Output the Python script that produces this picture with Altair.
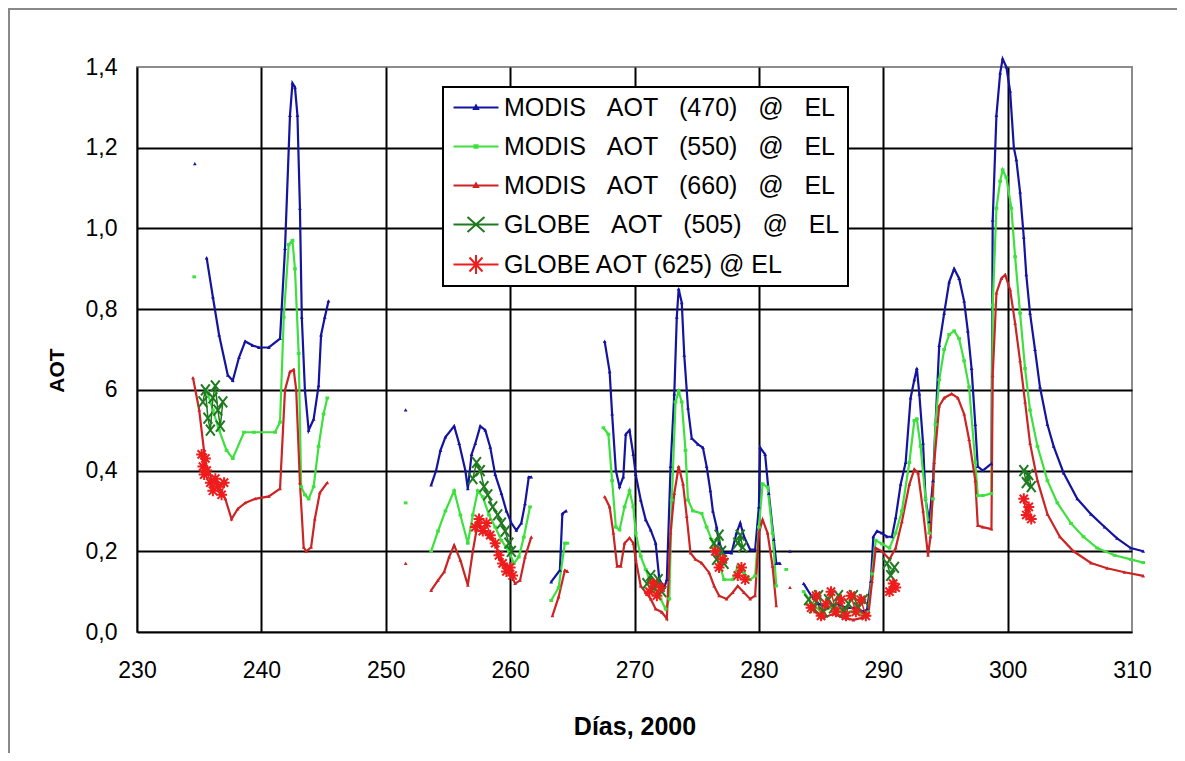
import altair as alt
import pandas as pd

N = None
NAMES = [
    "MODIS\u00a0\u00a0\u00a0AOT\u00a0\u00a0\u00a0(470)\u00a0\u00a0\u00a0@\u00a0\u00a0\u00a0EL",
    "MODIS\u00a0\u00a0\u00a0AOT\u00a0\u00a0\u00a0(550)\u00a0\u00a0\u00a0@\u00a0\u00a0\u00a0EL",
    "MODIS\u00a0\u00a0\u00a0AOT\u00a0\u00a0\u00a0(660)\u00a0\u00a0\u00a0@\u00a0\u00a0\u00a0EL",
    "GLOBE\u00a0\u00a0\u00a0AOT\u00a0\u00a0\u00a0(505)\u00a0\u00a0\u00a0@\u00a0\u00a0\u00a0EL",
    "GLOBE AOT (625) @ EL",
]
COLORS = ["#1414a0", "#3ee03e", "#cc2424", "#1e7a1e", "#ee1c1c"]

# None separates disconnected segments
DAYS_470 = [234.65, N,
            235.6, 236.1, 236.6, 237.3, 237.7, 238.2, 238.7, 239.3, 239.8, 240.6, 241.5, 241.9, 242.3, 242.5,
            242.7, 242.9, 243.1, 243.25, 243.5, 243.8, 244.2, 244.6, 244.8, 245.1, 245.4, N,
            251.6, N,
            253.65, 254.05, 254.4, 254.8, 255.5, 255.9, 256.4, 256.6, 256.9, 257.2, 257.6, 258.0, 258.4, 258.8,
            259.3, 259.7, 260.1, 260.5, 260.9, 261.2, 261.5, 261.7, N,
            263.3, 264.0, 264.2, 264.5, N,
            267.6, 268.0, 268.2, 268.5, 268.8, 269.1, 269.3, 269.6, 269.9, 270.1, 270.5, 270.9, 271.3, 271.7,
            272.0, 272.4, 272.6, 272.9, 273.2, 273.4, 273.55, 273.8, 274.0, 274.3, 274.6, 275.1, 275.5, 275.8,
            276.1, 276.3, 276.6, 276.8, 277.2, 277.8, 278.2, 278.5, 278.8, 279.3, 279.7, 280.0, 280.1, 280.5,
            280.8, 281.2, 281.4, 281.7, N,
            282.5, N,
            283.6, 284.2, 284.8, 285.5, 286.3, 287.0, 287.8, 288.4, 288.7, 289.0, 289.2, 289.5, 289.9, 290.3,
            290.7, 291.0, 291.4, 291.8, 292.2, 292.5, 292.7, 292.9, 293.2, 293.4, 293.7, 294.0, 294.2, 294.5,
            294.9, 295.3, 295.7, 296.1, 296.5, 296.8, 297.1, 297.4, 297.6, 298.0, 298.7, 298.8, 299.1, 299.4,
            299.6, 299.9, 300.2, 300.5, 300.7, 301.0, 301.3, 301.5, 301.8, 302.2, 302.6, 303.2, 303.7, 304.5,
            305.6, 306.7, 307.8, 308.8, 309.9, 310.9]
AOT_470 = [1.16, N,
           0.927, 0.83, 0.736, 0.636, 0.623, 0.68, 0.72, 0.71, 0.705, 0.705, 0.727, 0.95, 1.28, 1.36,
           1.35, 1.28, 1.05, 0.78, 0.60, 0.50, 0.527, 0.61, 0.736, 0.78, 0.82, N,
           0.55, N,
           0.364, 0.40, 0.45, 0.483, 0.51, 0.467, 0.40, 0.355, 0.44, 0.467, 0.51, 0.50, 0.458, 0.39,
           0.343, 0.30, 0.27, 0.252, 0.27, 0.318, 0.384, 0.384, N,
           0.124, 0.153, 0.293, 0.30, N,
           0.72, 0.645, 0.54, 0.40, 0.36, 0.384, 0.49, 0.50, 0.44, 0.39, 0.327, 0.278, 0.253, 0.22,
           0.13, 0.11, 0.13, 0.41, 0.59, 0.78, 0.85, 0.816, 0.686, 0.555, 0.48, 0.465, 0.457, 0.41,
           0.35, 0.30, 0.26, 0.22, 0.196, 0.196, 0.245, 0.27, 0.237, 0.204, 0.204, 0.31, 0.457, 0.44,
           0.343, 0.229, 0.17, 0.17, N,
           0.20, N,
           0.12, 0.09, 0.07, 0.06, 0.07, 0.06, 0.06, 0.05, 0.056, 0.125, 0.236, 0.25, 0.245, 0.236,
           0.236, 0.283, 0.366, 0.42, 0.58, 0.625, 0.653, 0.59, 0.468, 0.33, 0.273, 0.375, 0.514, 0.71,
           0.79, 0.867, 0.90, 0.876, 0.82, 0.746, 0.653, 0.514, 0.41, 0.40, 0.417, 1.02, 1.28, 1.385,
           1.42, 1.40, 1.34, 1.20, 1.17, 1.09, 0.978, 0.885, 0.79, 0.70, 0.607, 0.514, 0.46, 0.394,
           0.33, 0.292, 0.26, 0.232, 0.208, 0.20]

DAYS_550 = [234.6, N,
            235.6, 236.1, 236.6, 237.2, 237.7, 238.6, 239.4, 241.1, 241.5, 241.8, 242.2, 242.5, 242.7, 243.0,
            243.2, 243.5, 243.8, 244.2, 244.6, 245.0, 245.3, N,
            251.6, N,
            253.65, 254.2, 254.8, 255.5, 256.0, 256.6, 257.0, 257.4, 257.8, 258.3, 258.8, 259.3, 259.9, 260.3,
            260.7, 261.1, 261.6, N,
            263.3, 263.9, 264.4, 264.6, N,
            267.5, 267.9, 268.2, 268.5, 268.8, 269.2, 269.6, 269.9, 270.1, 270.5, 270.9, 271.3, 271.7, 272.1,
            272.5, 272.8, 273.0, 273.3, 273.55, 273.8, 274.1, 274.3, 274.7, 275.4, 275.8, 276.2, 276.7, 277.2,
            277.9, 278.3, 278.8, 279.3, 279.7, 280.0, 280.3, 280.7, 281.1, 281.4, N,
            282.2, N,
            283.6, 284.3, 285.0, 285.8, 286.6, 287.4, 288.2, 288.8, 289.1, 289.4, 289.9, 290.5, 291.0, 291.5,
            292.1, 292.5, 292.7, 293.0, 293.4, 293.7, 294.0, 294.2, 294.5, 294.9, 295.3, 295.7, 296.1, 296.5,
            296.9, 297.4, 297.6, 298.0, 298.7, 298.8, 299.1, 299.4, 299.6, 299.9, 300.3, 300.6, 301.0, 301.4,
            301.8, 302.4, 303.2, 304.0, 305.1, 306.1, 307.2, 308.6, 309.9, 310.9]
AOT_550 = [0.88, N,
           0.60, 0.55, 0.50, 0.45, 0.43, 0.495, 0.495, 0.495, 0.52, 0.78, 0.96, 0.97, 0.90, 0.69,
           0.36, 0.34, 0.33, 0.36, 0.46, 0.54, 0.58, N,
           0.32, N,
           0.20, 0.25, 0.30, 0.35, 0.29, 0.22, 0.29, 0.35, 0.335, 0.29, 0.26, 0.227, 0.20, 0.17,
           0.186, 0.235, 0.31, N,
           0.078, 0.11, 0.22, 0.22, N,
           0.506, 0.49, 0.375, 0.26, 0.253, 0.31, 0.35, 0.31, 0.245, 0.188, 0.155, 0.122, 0.098, 0.082,
           0.057, 0.082, 0.327, 0.57, 0.596, 0.57, 0.45, 0.327, 0.30, 0.294, 0.26, 0.229, 0.18, 0.13,
           0.13, 0.163, 0.147, 0.13, 0.139, 0.26, 0.367, 0.359, 0.245, 0.114, N,
           0.155, N,
           0.10, 0.07, 0.05, 0.06, 0.05, 0.05, 0.045, 0.05, 0.144, 0.227, 0.218, 0.208, 0.245, 0.30,
           0.42, 0.524, 0.528, 0.46, 0.33, 0.245, 0.33, 0.514, 0.625, 0.70, 0.737, 0.746, 0.727, 0.672,
           0.607, 0.42, 0.338, 0.338, 0.343, 0.81, 1.05, 1.117, 1.145, 1.126, 1.05, 0.93, 0.79, 0.653,
           0.55, 0.46, 0.375, 0.32, 0.269, 0.236, 0.208, 0.19, 0.18, 0.172]

DAYS_660 = [234.5, 235.0, 235.5, 236.0, 236.6, 237.1, 237.6, 238.1, 238.7, 239.5, 240.6, 241.5, 241.9, 242.3,
            242.6, 242.8, 243.1, 243.4, 243.6, 244.0, 244.3, 244.7, 245.3, N,
            251.6, N,
            253.65, 254.2, 254.7, 255.1, 255.5, 256.0, 256.6, 257.0, 257.4, 257.8, 258.3, 258.8, 259.3, 259.9,
            260.4, 260.8, 261.2, 261.7, N,
            263.4, 263.9, 264.4, 264.6, N,
            267.6, 268.0, 268.3, 268.6, 268.9, 269.2, 269.6, 269.9, 270.1, 270.5, 270.9, 271.3, 271.7, 272.2,
            272.6, 272.9, 273.2, 273.55, 273.9, 274.2, 274.5, 274.9, 275.4, 276.0, 276.4, 276.8, 277.4, 277.9,
            278.3, 278.8, 279.3, 279.7, 280.0, 280.3, 280.7, 281.1, 281.4, N,
            282.5, N,
            283.8, 284.5, 285.2, 286.0, 286.8, 287.6, 288.3, 288.8, 289.1, 289.4, 289.9, 290.5, 291.0, 291.5,
            292.1, 292.5, 292.8, 293.2, 293.6, 293.8, 294.1, 294.5, 294.9, 295.5, 296.0, 296.5, 296.9, 297.4,
            297.6, 298.0, 298.7, 298.8, 299.1, 299.5, 299.8, 300.2, 300.6, 301.0, 301.4, 301.8, 302.4, 303.2,
            304.2, 305.3, 306.7, 308.0, 309.4, 310.9]
AOT_660 = [0.63, 0.55, 0.42, 0.38, 0.36, 0.33, 0.28, 0.305, 0.32, 0.33, 0.336, 0.355, 0.60, 0.645,
           0.65, 0.60, 0.37, 0.21, 0.20, 0.21, 0.28, 0.345, 0.37, N,
           0.17, N,
           0.103, 0.128, 0.149, 0.186, 0.215, 0.178, 0.116, 0.20, 0.27, 0.255, 0.235, 0.22, 0.178, 0.157,
           0.12, 0.128, 0.186, 0.235, N,
           0.04, 0.087, 0.153, 0.15, N,
           0.335, 0.31, 0.245, 0.163, 0.163, 0.22, 0.233, 0.22, 0.18, 0.114, 0.098, 0.082, 0.057, 0.049,
           0.033, 0.245, 0.343, 0.41, 0.367, 0.286, 0.196, 0.18, 0.171, 0.147, 0.114, 0.09, 0.082, 0.098,
           0.114, 0.098, 0.082, 0.09, 0.245, 0.278, 0.245, 0.163, 0.065, N,
           0.11, N,
           0.07, 0.05, 0.035, 0.045, 0.035, 0.03, 0.035, 0.042, 0.125, 0.208, 0.20, 0.18, 0.208, 0.273,
           0.366, 0.403, 0.394, 0.30, 0.19, 0.236, 0.42, 0.56, 0.58, 0.59, 0.58, 0.54, 0.477, 0.375,
           0.264, 0.26, 0.255, 0.635, 0.84, 0.876, 0.885, 0.848, 0.765, 0.672, 0.57, 0.468, 0.375, 0.292,
           0.236, 0.20, 0.171, 0.158, 0.148, 0.139]

DAYS_505 = [235.3, 235.5, 235.7, 235.9, 236.1, 236.3, 236.5, 236.7, 236.9, N,
            257.0, 257.3, 257.6, 257.9, 258.2, 258.6, 259.0, 259.3, 259.6, 259.9, 260.1, N,
            271.0, 271.3, 271.6, 271.9, 272.2, N,
            276.4, 276.6, 276.8, 277.0, 277.2, N,
            278.3, 278.5, 278.7, N,
            284.0, 284.4, 284.8, 285.2, 285.6, 286.0, 286.4, 286.8, 287.2, 287.6, 288.0, 288.4, N,
            290.3, 290.6, 290.9, N,
            301.3, 301.5, 301.7, 301.9]
AOT_505 = [0.57, 0.60, 0.53, 0.50, 0.58, 0.61, 0.55, 0.51, 0.57, N,
           0.38, 0.42, 0.40, 0.36, 0.34, 0.31, 0.29, 0.27, 0.25, 0.22, 0.20, N,
           0.12, 0.14, 0.11, 0.13, 0.10, N,
           0.22, 0.18, 0.24, 0.20, 0.17, N,
           0.22, 0.24, 0.21, N,
           0.08, 0.06, 0.09, 0.05, 0.08, 0.06, 0.09, 0.05, 0.07, 0.09, 0.06, 0.08, N,
           0.17, 0.14, 0.16, N,
           0.40, 0.37, 0.39, 0.36]

DAYS_625 = [235.2, 235.3, 235.4, 235.5, 235.6, 235.9, 236.1, 236.3, 236.5, 236.8, 237.0, N,
            257.2, 257.5, 257.8, 258.1, 258.4, 258.8, 259.1, 259.4, 259.7, 260.0, 260.2, N,
            271.2, 271.5, 271.8, 272.1, N,
            276.5, 276.8, 277.1, N,
            278.3, 278.6, 278.9, N,
            284.2, 284.6, 285.0, 285.4, 285.8, 286.2, 286.6, 287.0, 287.4, 287.8, 288.2, 288.6, N,
            290.5, 290.8, 291.0, N,
            301.3, 301.5, 301.7, 301.9]
AOT_625 = [0.44, 0.41, 0.39, 0.43, 0.40, 0.37, 0.35, 0.38, 0.36, 0.34, 0.37, N,
           0.26, 0.28, 0.25, 0.27, 0.24, 0.22, 0.19, 0.17, 0.15, 0.16, 0.14, N,
           0.10, 0.12, 0.09, 0.11, N,
           0.20, 0.16, 0.18, N,
           0.14, 0.16, 0.13, N,
           0.06, 0.09, 0.04, 0.07, 0.10, 0.05, 0.08, 0.04, 0.09, 0.05, 0.08, 0.04, N,
           0.10, 0.12, 0.11, N,
           0.33, 0.29, 0.31, 0.28]

X_TICKS = [230, 240, 250, 260, 270, 280, 290, 300, 310]
Y_TICKS = [0.0, 0.2, 0.4, 0.6, 0.8, 1.0, 1.2, 1.4]

SERIES = [(DAYS_470, AOT_470), (DAYS_550, AOT_550), (DAYS_660, AOT_660),
          (DAYS_505, AOT_505), (DAYS_625, AOT_625)]

# marker paths on the plot (unit size) and legend symbols (line + marker)
MARK_PATHS = [
    "M-1,0.8L0,-1L1,0.8Z",
    "M-1,-0.8L1,-0.8L1,0.8L-1,0.8Z",
    "M-1,0.8L0,-1L1,0.8Z",
    "M-0.8,-1L0.8,1M-0.8,1L0.8,-1",
    "M-1,0L1,0M0,-1L0,1M-0.75,-0.75L0.75,0.75M-0.75,0.75L0.75,-0.75",
]
MARK_SIZES = [14, 14, 14, 120, 120]
# legend symbols: a 45px line with the marker in its middle (1 unit = 10px)
LEG_PATHS = [
    "M-1,0L3.5,0M1.05,0.15L1.25,-0.2L1.45,0.15Z",
    "M-1,0L3.5,0M1.1,-0.12L1.4,-0.12L1.4,0.12L1.1,0.12Z",
    "M-1,0L3.5,0M1.05,0.15L1.25,-0.2L1.45,0.15Z",
    "M-1,0L3.5,0M0.4,-0.75L2.1,0.75M0.4,0.75L2.1,-0.75",
    "M-1,0L3.5,0M0.45,0L2.05,0M1.25,-0.95L1.25,0.95M0.6,-0.7L1.9,0.7M0.6,0.7L1.9,-0.7",
]

rows = []
for name, (days, vals) in zip(NAMES, SERIES):
    seg = 0
    for d, v in zip(days, vals):
        if d is None:
            seg += 1
            continue
        rows.append({"series": name, "seg": f"{name}|{seg}", "day": d, "aot": v})
df = pd.DataFrame(rows)

FONT = "Liberation Sans"

x_enc = alt.X(
    "day:Q",
    scale=alt.Scale(domain=[230, 310], nice=False, zero=False),
    axis=alt.Axis(
        values=X_TICKS, title="Días, 2000", format="d",
        grid=True, gridColor={"condition": {"test": "datum.value >= 309", "value": "transparent"}, "value": "#000000"},
        gridWidth=2, domain=False, ticks=False,
        labelFontSize=23, labelPadding=27, labelColor="#000000", labelFont=FONT, labelFlush=False,
        titleFontSize=25, titleFontWeight="bold", titleFont=FONT, titleColor="#000000",
        titleY=102, titleBaseline="alphabetic",
    ),
)
y_enc = alt.Y(
    "aot:Q",
    scale=alt.Scale(domain=[0, 1.4], nice=False, zero=False),
    axis=alt.Axis(
        values=Y_TICKS, title="AOT",
        labelExpr="abs(datum.value - 0.6) < 0.001 ? '6' : replace(format(datum.value, '.1f'), '.', ',')",
        grid=True, gridColor={"condition": {"test": "datum.value >= 1.39", "value": "transparent"}, "value": "#000000"},
        gridWidth=2, domain=False, ticks=False,
        labelFontSize=23, labelPadding=20, labelColor="#000000", labelFont=FONT, labelFlush=False,
        titleFontSize=21, titleFontWeight="bold", titleFont=FONT, titleColor="#000000",
        titleAngle=270, titleX=-74, titleY=303, titleAlign="center", titleBaseline="alphabetic",
    ),
)

layers = []
for i, name in enumerate(NAMES):
    sub = df[df["series"] == name]
    base = alt.Chart(sub)
    layers.append(
        base.mark_line(color=COLORS[i], strokeWidth=2.2 if i < 3 else 1.5).encode(
            x=x_enc, y=y_enc, detail="seg:N", order="day:Q"
        )
    )
for i, name in enumerate(NAMES):
    sub = df[df["series"] == name]
    base = alt.Chart(sub)
    if i < 3:
        m = base.mark_point(shape=MARK_PATHS[i], size=MARK_SIZES[i], filled=True,
                            color=COLORS[i], opacity=1)
    else:
        m = base.mark_point(shape=MARK_PATHS[i], size=MARK_SIZES[i], filled=False,
                            color=COLORS[i], strokeWidth=2, opacity=1)
    layers.append(m.encode(x=x_enc, y=y_enc))

legend_layer = alt.Chart(df).mark_point(opacity=0, filled=False).encode(
    x=x_enc, y=y_enc,
    color=alt.Color(
        "series:N",
        scale=alt.Scale(domain=NAMES, range=COLORS),
        legend=alt.Legend(
            title=None, orient="none", legendX=306, legendY=20,
            fillColor="#ffffff", strokeColor="#000000", padding=8,
            labelFontSize=25, labelFont=FONT, labelColor="#000000", labelLimit=1000,
            labelOffset=28, rowPadding=13, symbolSize=400, symbolStrokeWidth=2,
            symbolOpacity=1, symbolFillColor="transparent",
        ),
    ),
    shape=alt.Shape("series:N", scale=alt.Scale(domain=NAMES, range=LEG_PATHS)),
)
layers.append(legend_layer)

frame_left = alt.Chart(df).mark_rule(color="#888888", strokeWidth=1.5).encode(
    x=alt.value(-128.5), y=alt.value(-59), y2=alt.value(700)
)
frame_top = alt.Chart(df).mark_rule(color="#888888", strokeWidth=1.5).encode(
    x=alt.value(-129), x2=alt.value(1045), y=alt.value(-58.5)
)

chart = alt.layer(*layers, frame_left, frame_top).properties(
    width=995, height=565,
    autosize=alt.AutoSizeParams(type="none"),
    padding={"left": 129, "top": 59, "right": 45, "bottom": 121},
    background="#ffffff",
).configure_view(
    stroke="#8c8c8c", strokeWidth=2
).configure_legend(strokeWidth=2)

chart.save("out.html", embed_options={"renderer": "svg", "actions": False})
